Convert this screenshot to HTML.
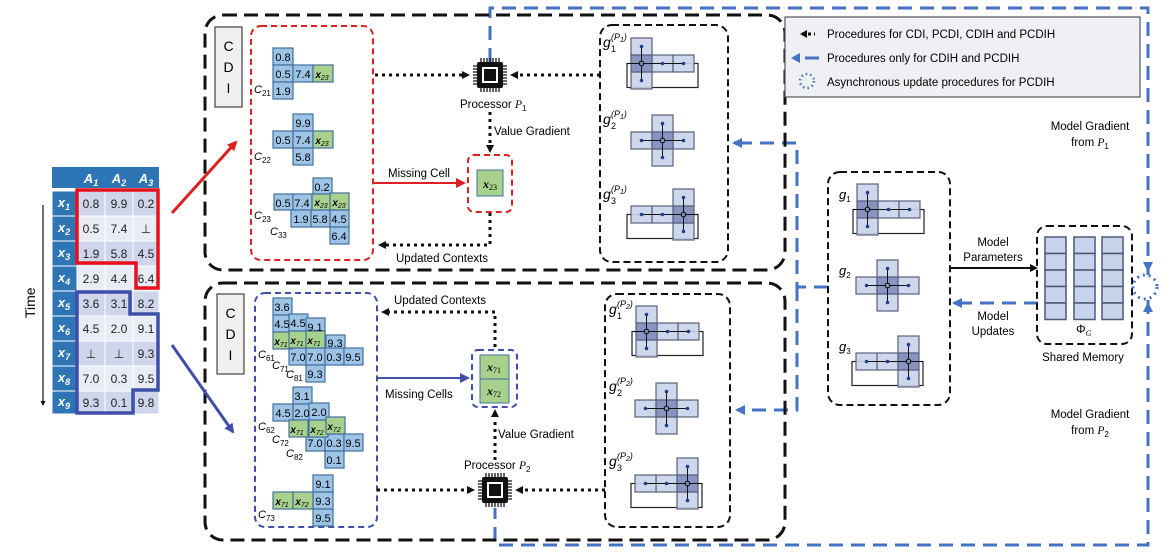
<!DOCTYPE html>
<html><head><meta charset="utf-8"><style>
html,body{margin:0;padding:0;background:#fff;}
svg{display:block;}
text{font-family:"Liberation Sans",sans-serif;}
.m{font-family:"Liberation Serif",serif;font-style:italic;}
</style></head><body>
<svg width="1170" height="556" viewBox="0 0 1170 556" xmlns="http://www.w3.org/2000/svg">
<defs>
<marker id="ak" markerWidth="8" markerHeight="8" refX="6" refY="4" orient="auto" markerUnits="userSpaceOnUse"><path d="M0,0 L8,4 L0,8 Z" fill="#111"/></marker>
<marker id="ab" markerWidth="10" markerHeight="10" refX="8" refY="5" orient="auto" markerUnits="userSpaceOnUse"><path d="M0,0 L10,5 L0,10 Z" fill="#4472c4"/></marker>
<marker id="ar" markerWidth="10" markerHeight="10" refX="8" refY="5" orient="auto" markerUnits="userSpaceOnUse"><path d="M0,0 L10,5 L0,10 Z" fill="#e02020"/></marker>
<marker id="an" markerWidth="10" markerHeight="10" refX="8" refY="5" orient="auto" markerUnits="userSpaceOnUse"><path d="M0,0 L10,5 L0,10 Z" fill="#3d4fa8"/></marker>
<marker id="as" markerWidth="5" markerHeight="5" refX="4" refY="2.5" orient="auto" markerUnits="userSpaceOnUse"><path d="M0,0 L5,2.5 L0,5 Z" fill="#111"/></marker>
<g id="gA">
<rect x="-4" y="8.5" width="71" height="24" fill="none" stroke="#222" stroke-width="1.2"/>
<g fill="#c9d3ea" fill-opacity="0.9" stroke="#58627a" stroke-width="1.2">
<rect x="0" y="-17" width="21" height="17"/><rect x="0" y="17" width="21" height="17"/><rect x="21" y="0" width="21" height="17"/><rect x="42" y="0" width="21" height="17"/>
<rect x="0" y="0" width="21" height="17" fill="#7d88bd"/></g>
<g stroke="#111" stroke-width="1"><line x1="10.5" y1="-8.5" x2="10.5" y2="6"/><line x1="10.5" y1="25.5" x2="10.5" y2="11"/><line x1="52.5" y1="8.5" x2="13" y2="8.5"/><line x1="-4" y1="8.5" x2="8" y2="8.5"/></g>
<g fill="#1f3f8f"><circle cx="10.5" cy="-8.5" r="1.8"/><circle cx="10.5" cy="25.5" r="1.8"/><circle cx="31.5" cy="8.5" r="1.8"/><circle cx="52.5" cy="8.5" r="1.8"/></g>
<circle cx="10.5" cy="8.5" r="2.3" fill="none" stroke="#111" stroke-width="1.2"/>
</g>
<g id="gB">
<g fill="#c9d3ea" fill-opacity="0.9" stroke="#58627a" stroke-width="1.2">
<rect x="0" y="-17" width="21" height="17"/><rect x="0" y="17" width="21" height="17"/><rect x="21" y="0" width="21" height="17"/><rect x="-21" y="0" width="21" height="17"/>
<rect x="0" y="0" width="21" height="17" fill="#7d88bd"/></g>
<g stroke="#111" stroke-width="1"><line x1="10.5" y1="-8.5" x2="10.5" y2="6"/><line x1="10.5" y1="25.5" x2="10.5" y2="11"/><line x1="31.5" y1="8.5" x2="13" y2="8.5"/><line x1="-10.5" y1="8.5" x2="8" y2="8.5"/></g>
<g fill="#1f3f8f"><circle cx="10.5" cy="-8.5" r="1.8"/><circle cx="10.5" cy="25.5" r="1.8"/><circle cx="31.5" cy="8.5" r="1.8"/><circle cx="-10.5" cy="8.5" r="1.8"/></g>
<circle cx="10.5" cy="8.5" r="2.3" fill="none" stroke="#111" stroke-width="1.2"/>
</g>
<g id="gC">
<rect x="-46" y="8.5" width="71" height="24" fill="none" stroke="#222" stroke-width="1.2"/>
<g fill="#c9d3ea" fill-opacity="0.9" stroke="#58627a" stroke-width="1.2">
<rect x="0" y="-17" width="21" height="17"/><rect x="0" y="17" width="21" height="17"/><rect x="-21" y="0" width="21" height="17"/><rect x="-42" y="0" width="21" height="17"/>
<rect x="0" y="0" width="21" height="17" fill="#7d88bd"/></g>
<g stroke="#111" stroke-width="1"><line x1="10.5" y1="-8.5" x2="10.5" y2="6"/><line x1="10.5" y1="25.5" x2="10.5" y2="11"/><line x1="-31.5" y1="8.5" x2="8" y2="8.5"/><line x1="25" y1="8.5" x2="13" y2="8.5"/></g>
<g fill="#1f3f8f"><circle cx="10.5" cy="-8.5" r="1.8"/><circle cx="10.5" cy="25.5" r="1.8"/><circle cx="-10.5" cy="8.5" r="1.8"/><circle cx="-31.5" cy="8.5" r="1.8"/></g>
<circle cx="10.5" cy="8.5" r="2.3" fill="none" stroke="#111" stroke-width="1.2"/>
</g>
<g id="chip">
<g stroke="#111" stroke-width="1.3">
<path d="M-9,-17v4M-6,-17v4M-3,-17v4M0,-17v4M3,-17v4M6,-17v4M9,-17v4"/>
<path d="M-9,13v4M-6,13v4M-3,13v4M0,13v4M3,13v4M6,13v4M9,13v4"/>
<path d="M-17,-9h4M-17,-6h4M-17,-3h4M-17,0h4M-17,3h4M-17,6h4M-17,9h4"/>
<path d="M13,-9h4M13,-6h4M13,-3h4M13,0h4M13,3h4M13,6h4M13,9h4"/>
</g>
<rect x="-13" y="-13" width="26" height="26" rx="2" fill="#111"/>
<rect x="-8" y="-8" width="16" height="16" fill="#fff"/>
<rect x="-6" y="-6" width="12" height="12" fill="#111"/>
</g>
</defs>

<g fill="none" stroke="#4472c4" stroke-width="3" stroke-dasharray="14,8">
<path d="M490,62 V8 H1148 V275"/>
<path d="M1148,300 V545 H495 V508"/>
<path d="M828,287 H797 V143 H742"/>
<path d="M797,287 V410 H745"/>
<path d="M1038,303 H962"/>
</g>
<path d="M742,143 h-8" stroke="#4472c4" stroke-width="3" marker-end="url(#ab)"/>
<path d="M745,410 h-8" stroke="#4472c4" stroke-width="3" marker-end="url(#ab)"/>
<path d="M962,303 h-8" stroke="#4472c4" stroke-width="3" marker-end="url(#ab)"/>
<path d="M1148,262 v8" stroke="#4472c4" stroke-width="3" marker-end="url(#ab)"/>
<path d="M1148,312 v-8" stroke="#4472c4" stroke-width="3" marker-end="url(#ab)"/>
<circle cx="1145" cy="287" r="12" fill="none" stroke="#4472c4" stroke-width="3" stroke-dasharray="2,4"/>

<rect x="205" y="15" width="580" height="255" rx="18" fill="none" stroke="#111" stroke-width="3" stroke-dasharray="14,7"/>
<rect x="205" y="283" width="580" height="257" rx="18" fill="none" stroke="#111" stroke-width="3" stroke-dasharray="14,7"/>

<rect x="215" y="27" width="27" height="80" fill="#f0f0f0" stroke="#444" stroke-width="1.2"/>
<text x="228.5" y="51" font-size="14" text-anchor="middle">C</text><text x="228.5" y="72" font-size="14" text-anchor="middle">D</text><text x="228.5" y="93" font-size="14" text-anchor="middle">I</text>
<rect x="217" y="294" width="27" height="80" fill="#f0f0f0" stroke="#444" stroke-width="1.2"/>
<text x="230.5" y="318" font-size="14" text-anchor="middle">C</text><text x="230.5" y="339" font-size="14" text-anchor="middle">D</text><text x="230.5" y="360" font-size="14" text-anchor="middle">I</text>

<rect x="251" y="26" width="122" height="234" rx="10" fill="none" stroke="#e02020" stroke-width="2" stroke-dasharray="6,4"/>
<rect x="468" y="155" width="44" height="57" rx="6" fill="none" stroke="#e02020" stroke-width="2" stroke-dasharray="6,4"/>
<rect x="477" y="170" width="26" height="26" fill="#a9d18e" stroke="#41719c"/>
<text x="490" y="188" class="m" font-size="12" font-weight="bold" text-anchor="middle">x<tspan font-size="8" dy="2" font-style="normal" font-weight="normal">23</tspan></text>

<rect x="255" y="293" width="122" height="234" rx="10" fill="none" stroke="#3d4fa8" stroke-width="2" stroke-dasharray="6,4"/>
<rect x="472" y="350" width="45" height="57" rx="6" fill="none" stroke="#3d4fa8" stroke-width="2" stroke-dasharray="6,4"/>
<rect x="480" y="355" width="29" height="24" fill="#a9d18e" stroke="#41719c"/>
<rect x="480" y="379" width="29" height="24" fill="#a9d18e" stroke="#41719c"/>
<text x="494" y="371" class="m" font-size="12" font-weight="bold" text-anchor="middle">x<tspan font-size="8" dy="2" font-style="normal" font-weight="normal">71</tspan></text>
<text x="494" y="395" class="m" font-size="12" font-weight="bold" text-anchor="middle">x<tspan font-size="8" dy="2" font-style="normal" font-weight="normal">72</tspan></text>

<rect x="600" y="25" width="128" height="237" rx="12" fill="none" stroke="#111" stroke-width="2" stroke-dasharray="7,4"/>
<rect x="605" y="294" width="125" height="233" rx="12" fill="none" stroke="#111" stroke-width="2" stroke-dasharray="7,4"/>
<rect x="828" y="172" width="122" height="233" rx="12" fill="none" stroke="#111" stroke-width="2" stroke-dasharray="7,4"/>
<rect x="1037" y="226" width="95" height="118" rx="10" fill="none" stroke="#111" stroke-width="2" stroke-dasharray="7,4"/>

<use href="#gA" x="631" y="55"/><use href="#gB" x="652" y="132"/><use href="#gC" x="673" y="206"/>
<use href="#gA" x="636" y="323"/><use href="#gB" x="656" y="400"/><use href="#gC" x="677" y="475"/>
<use href="#gA" x="857" y="201"/><use href="#gB" x="877" y="277"/><use href="#gC" x="898" y="353"/>

<g class="m">
<text x="603" y="47" font-size="14">g</text><text x="611" y="52" font-size="9" font-style="normal">1</text><text x="611" y="40" font-size="9">(P<tspan font-size="7" dy="2">1</tspan><tspan dy="-2">)</tspan></text>
<text x="603" y="124" font-size="14">g</text><text x="611" y="129" font-size="9" font-style="normal">2</text><text x="611" y="117" font-size="9">(P<tspan font-size="7" dy="2">1</tspan><tspan dy="-2">)</tspan></text>
<text x="603" y="199" font-size="14">g</text><text x="611" y="204" font-size="9" font-style="normal">3</text><text x="611" y="192" font-size="9">(P<tspan font-size="7" dy="2">1</tspan><tspan dy="-2">)</tspan></text>
<text x="609" y="314" font-size="14">g</text><text x="617" y="319" font-size="9" font-style="normal">1</text><text x="617" y="307" font-size="9">(P<tspan font-size="7" dy="2">2</tspan><tspan dy="-2">)</tspan></text>
<text x="609" y="391" font-size="14">g</text><text x="617" y="396" font-size="9" font-style="normal">2</text><text x="617" y="384" font-size="9">(P<tspan font-size="7" dy="2">2</tspan><tspan dy="-2">)</tspan></text>
<text x="609" y="466" font-size="14">g</text><text x="617" y="471" font-size="9" font-style="normal">3</text><text x="617" y="459" font-size="9">(P<tspan font-size="7" dy="2">2</tspan><tspan dy="-2">)</tspan></text>
<text x="839" y="199" font-size="13">g<tspan font-size="8" dy="3" font-style="normal">1</tspan></text>
<text x="839" y="275" font-size="13">g<tspan font-size="8" dy="3" font-style="normal">2</tspan></text>
<text x="839" y="351" font-size="13">g<tspan font-size="8" dy="3" font-style="normal">3</tspan></text>
</g>

<g fill="#c9d3ea" stroke="#4a5a7a" stroke-width="1.5">
<rect x="1045" y="237" width="21" height="16.5"/><rect x="1045" y="253.5" width="21" height="16.5"/><rect x="1045" y="270" width="21" height="16.5"/><rect x="1045" y="286.5" width="21" height="16.5"/><rect x="1045" y="303" width="21" height="16.5"/>
<rect x="1074" y="237" width="21" height="16.5"/><rect x="1074" y="253.5" width="21" height="16.5"/><rect x="1074" y="270" width="21" height="16.5"/><rect x="1074" y="286.5" width="21" height="16.5"/><rect x="1074" y="303" width="21" height="16.5"/>
<rect x="1102" y="237" width="21" height="16.5"/><rect x="1102" y="253.5" width="21" height="16.5"/><rect x="1102" y="270" width="21" height="16.5"/><rect x="1102" y="286.5" width="21" height="16.5"/><rect x="1102" y="303" width="21" height="16.5"/>
</g>
<text x="1076" y="333" font-size="12" font-family="Liberation Serif">Φ<tspan font-size="8" dy="3" class="m">G</tspan></text>
<text x="1083" y="361" font-size="11.5" text-anchor="middle">Shared Memory</text>
<path d="M950,268 H1036" stroke="#111" stroke-width="2" marker-end="url(#ak)"/>
<text x="993" y="246" font-size="11.5" text-anchor="middle">Model</text>
<text x="993" y="261" font-size="11.5" text-anchor="middle">Parameters</text>
<text x="993" y="320" font-size="11.5" text-anchor="middle">Model</text>
<text x="993" y="335" font-size="11.5" text-anchor="middle">Updates</text>
<text x="1090" y="130" font-size="11.5" text-anchor="middle">Model Gradient</text>
<text x="1090" y="146" font-size="11.5" text-anchor="middle">from <tspan class="m" font-family="Liberation Serif">P</tspan><tspan font-size="8" dy="3">1</tspan></text>
<text x="1090" y="418" font-size="11.5" text-anchor="middle">Model Gradient</text>
<text x="1090" y="434" font-size="11.5" text-anchor="middle">from <tspan class="m" font-family="Liberation Serif">P</tspan><tspan font-size="8" dy="3">2</tspan></text>

<rect x="785" y="17" width="355" height="80" fill="#eef0f3" stroke="#555" stroke-width="1.2"/>
<path d="M802,34 h13" stroke="#111" stroke-width="3" stroke-dasharray="3,3"/><path d="M800,34 l7,-4 v8z" fill="#111"/>
<text x="827" y="38" font-size="11.5">Procedures for CDI, PCDI, CDIH and PCDIH</text>
<path d="M805,58 h14" stroke="#4472c4" stroke-width="3"/><path d="M791,58 l9,-5 v10z" fill="#4472c4"/>
<text x="827" y="62" font-size="11.5">Procedures only for CDIH and PCDIH</text>
<circle cx="807" cy="81" r="7" fill="none" stroke="#4472c4" stroke-width="2.5" stroke-dasharray="1.5,3"/>
<text x="827" y="86" font-size="11.5">Asynchronous update procedures for PCDIH</text>

<use href="#chip" x="490" y="75"/>
<use href="#chip" x="495" y="490"/>
<g fill="none" stroke="#111" stroke-width="3" stroke-dasharray="3,4">
<path d="M375,75 H462"/><path d="M600,75 H518"/>
<path d="M490,112 V145"/>
<path d="M490,213 V245 H385"/>
<path d="M377,490 H467"/><path d="M605,490 H523"/>
<path d="M495,460 V418"/>
<path d="M495,347 V312 H388"/>
</g>
<path d="M464,75 h4" stroke="#111" stroke-width="2" marker-end="url(#ak)"/>
<path d="M516,75 h-4" stroke="#111" stroke-width="2" marker-end="url(#ak)"/>
<path d="M490,147 v4" stroke="#111" stroke-width="2" marker-end="url(#ak)"/>
<path d="M386,245 h-6" stroke="#111" stroke-width="2" marker-end="url(#ak)"/>
<path d="M469,490 h4" stroke="#111" stroke-width="2" marker-end="url(#ak)"/>
<path d="M521,490 h-4" stroke="#111" stroke-width="2" marker-end="url(#ak)"/>
<path d="M495,417 v-6" stroke="#111" stroke-width="2" marker-end="url(#ak)"/>
<path d="M389,312 h-6" stroke="#111" stroke-width="2" marker-end="url(#ak)"/>
<text x="460" y="108" font-size="11.5">Processor <tspan class="m" font-family="Liberation Serif">P</tspan><tspan font-size="8" dy="3">1</tspan></text>
<text x="494" y="135" font-size="11.5">Value Gradient</text>
<text x="396" y="262" font-size="11.5">Updated Contexts</text>
<text x="394" y="304" font-size="11.5">Updated Contexts</text>
<text x="498" y="438" font-size="11.5">Value Gradient</text>
<text x="464" y="469" font-size="11.5">Processor <tspan class="m" font-family="Liberation Serif">P</tspan><tspan font-size="8" dy="3">2</tspan></text>

<path d="M373,183 H464" stroke="#e02020" stroke-width="2" marker-end="url(#ar)"/>
<text x="388" y="177" font-size="11.5">Missing Cell</text>
<path d="M377,378 H468" stroke="#3d4fa8" stroke-width="2" marker-end="url(#an)"/>
<text x="385" y="398" font-size="11.5">Missing Cells</text>

<g font-size="11" text-anchor="middle">
<g fill="#9dc3e6" stroke="#41719c" stroke-width="1.2">
<rect x="273" y="48" width="20" height="17"/><rect x="273" y="65" width="20" height="17"/><rect x="293" y="65" width="20" height="17"/><rect x="273" y="82" width="20" height="17"/>
<rect x="293" y="114" width="20" height="17"/><rect x="273" y="131" width="20" height="17"/><rect x="293" y="131" width="20" height="17"/><rect x="293" y="148" width="20" height="17"/>
<rect x="313" y="178" width="19" height="16"/><rect x="274" y="194" width="19" height="16"/><rect x="293" y="194" width="19" height="16"/>
<rect x="291" y="210" width="20" height="17"/><rect x="311" y="210" width="19" height="17"/><rect x="330" y="210" width="19" height="17"/><rect x="330" y="227" width="19" height="17"/>
</g>
<g fill="#a9d18e" stroke="#41719c" stroke-width="1.2">
<rect x="313" y="65" width="20" height="17"/><rect x="313" y="131" width="20" height="17"/><rect x="312" y="194" width="19" height="16"/><rect x="330" y="193" width="19" height="17"/>
</g>
<text x="283" y="61">0.8</text><text x="283" y="78">0.5</text><text x="303" y="78">7.4</text><text x="283" y="95">1.9</text>
<text x="303" y="127">9.9</text><text x="283" y="144">0.5</text><text x="303" y="144">7.4</text><text x="303" y="161">5.8</text>
<text x="322" y="191">0.2</text><text x="283" y="207">0.5</text><text x="302" y="207">7.4</text>
<text x="301" y="223">1.9</text><text x="320" y="223">5.8</text><text x="339" y="223">4.5</text><text x="339" y="240">6.4</text>
<g class="m" font-family="Liberation Serif" font-weight="bold" font-size="10">
<text x="322" y="78">x<tspan font-size="7" dy="2" font-weight="normal">23</tspan></text>
<text x="322" y="144">x<tspan font-size="7" dy="2" font-weight="normal">23</tspan></text>
<text x="321" y="206">x<tspan font-size="7" dy="2" font-weight="normal">23</tspan></text>
<text x="339" y="206">x<tspan font-size="7" dy="2" font-weight="normal">23</tspan></text>
</g>
</g>
<g class="m" font-family="Liberation Serif" font-size="11">
<text x="254" y="93">C<tspan font-size="8" dy="3" font-style="normal">21</tspan></text>
<text x="254" y="160">C<tspan font-size="8" dy="3" font-style="normal">22</tspan></text>
<text x="254" y="219">C<tspan font-size="8" dy="3" font-style="normal">23</tspan></text>
<text x="270" y="235">C<tspan font-size="8" dy="3" font-style="normal">33</tspan></text>
<text x="258" y="358">C<tspan font-size="8" dy="3" font-style="normal">61</tspan></text>
<text x="272" y="369">C<tspan font-size="8" dy="3" font-style="normal">71</tspan></text>
<text x="286" y="378">C<tspan font-size="8" dy="3" font-style="normal">81</tspan></text>
<text x="258" y="430">C<tspan font-size="8" dy="3" font-style="normal">62</tspan></text>
<text x="272" y="443">C<tspan font-size="8" dy="3" font-style="normal">72</tspan></text>
<text x="286" y="457">C<tspan font-size="8" dy="3" font-style="normal">82</tspan></text>
<text x="258" y="518">C<tspan font-size="8" dy="3" font-style="normal">73</tspan></text>
</g>

<g font-size="11" text-anchor="middle">
<g fill="#9dc3e6" stroke="#41719c" stroke-width="1.2">
<rect x="273" y="298" width="19" height="17"/><rect x="273" y="315" width="19" height="17"/>
<rect x="289" y="314" width="19" height="17"/><rect x="289" y="348" width="19" height="17"/>
<rect x="306" y="318" width="19" height="16"/><rect x="326" y="335" width="19" height="16"/>
<rect x="306" y="348" width="19" height="17"/><rect x="325" y="348" width="19" height="17"/><rect x="344" y="348" width="19" height="17"/><rect x="306" y="365" width="19" height="17"/>
<rect x="293" y="387" width="19" height="17"/><rect x="273" y="404" width="20" height="17"/><rect x="293" y="404" width="19" height="17"/><rect x="309" y="403" width="20" height="17"/>
<rect x="306" y="434" width="19" height="17"/><rect x="325" y="434" width="19" height="17"/><rect x="344" y="434" width="19" height="17"/><rect x="325" y="451" width="19" height="17"/>
<rect x="313" y="475" width="20" height="17"/><rect x="313" y="492" width="20" height="17"/><rect x="313" y="509" width="20" height="17"/>
</g>
<g fill="#a9d18e" stroke="#41719c" stroke-width="1.2">
<rect x="273" y="332" width="19" height="17"/><rect x="289" y="331" width="19" height="17"/><rect x="306" y="331" width="19" height="17"/>
<rect x="289" y="420" width="19" height="17"/><rect x="309" y="420" width="19" height="17"/><rect x="326" y="417" width="19" height="17"/>
<rect x="273" y="492" width="20" height="17"/><rect x="293" y="492" width="20" height="17"/>
</g>
<text x="282" y="311">3.6</text><text x="282" y="328">4.5</text><text x="298" y="327">4.5</text><text x="298" y="361">7.0</text>
<text x="315" y="331">9.1</text><text x="335" y="347">9.3</text>
<text x="315" y="361">7.0</text><text x="334" y="361">0.3</text><text x="353" y="361">9.5</text><text x="315" y="378">9.3</text>
<text x="302" y="400">3.1</text><text x="283" y="417">4.5</text><text x="302" y="417">2.0</text><text x="319" y="416">2.0</text>
<text x="315" y="447">7.0</text><text x="334" y="447">0.3</text><text x="353" y="447">9.5</text><text x="334" y="464">0.1</text>
<text x="323" y="488">9.1</text><text x="323" y="505">9.3</text><text x="323" y="522">9.5</text>
<g class="m" font-family="Liberation Serif" font-weight="bold" font-size="10">
<text x="281" y="345">x<tspan font-size="7" dy="2" font-weight="normal">71</tspan></text>
<text x="297" y="344">x<tspan font-size="7" dy="2" font-weight="normal">71</tspan></text>
<text x="314" y="344">x<tspan font-size="7" dy="2" font-weight="normal">71</tspan></text>
<text x="297" y="433">x<tspan font-size="7" dy="2" font-weight="normal">71</tspan></text>
<text x="317" y="433">x<tspan font-size="7" dy="2" font-weight="normal">72</tspan></text>
<text x="334" y="430">x<tspan font-size="7" dy="2" font-weight="normal">72</tspan></text>
<text x="282" y="505">x<tspan font-size="7" dy="2" font-weight="normal">71</tspan></text>
<text x="302" y="505">x<tspan font-size="7" dy="2" font-weight="normal">72</tspan></text>
</g>
</g>

<g>
<rect x="52" y="167" width="25" height="21" fill="#2e75b6"/>
<rect x="77" y="167" width="28" height="21" fill="#2e75b6"/><rect x="105" y="167" width="28" height="21" fill="#2e75b6"/><rect x="133" y="167" width="26" height="21" fill="#2e75b6"/>
<g fill="#2e75b6" stroke="#fff" stroke-width="1">
<rect x="52" y="191" width="25" height="25"/><rect x="52" y="216" width="25" height="25"/><rect x="52" y="241" width="25" height="25"/><rect x="52" y="266" width="25" height="25"/><rect x="52" y="291" width="25" height="25"/><rect x="52" y="316" width="25" height="25"/><rect x="52" y="341" width="25" height="25"/><rect x="52" y="366" width="25" height="25"/><rect x="52" y="391" width="25" height="23"/>
</g>
<g stroke="#fff" stroke-width="1">
<rect x="77" y="191" width="82" height="25" fill="#cfd5ea"/><rect x="77" y="216" width="82" height="25" fill="#e9ebf5"/><rect x="77" y="241" width="82" height="25" fill="#cfd5ea"/><rect x="77" y="266" width="82" height="25" fill="#e9ebf5"/><rect x="77" y="291" width="82" height="25" fill="#cfd5ea"/><rect x="77" y="316" width="82" height="25" fill="#e9ebf5"/><rect x="77" y="341" width="82" height="25" fill="#cfd5ea"/><rect x="77" y="366" width="82" height="25" fill="#e9ebf5"/><rect x="77" y="391" width="82" height="23" fill="#cfd5ea"/>
<path d="M105,191V414M133,191V414"/>
</g>
<g class="m" font-family="Liberation Serif" font-weight="bold" fill="#fff" font-size="13" text-anchor="middle">
<text x="91" y="183">A<tspan font-size="9" dy="3">1</tspan></text><text x="119" y="183">A<tspan font-size="9" dy="3">2</tspan></text><text x="146" y="183">A<tspan font-size="9" dy="3">3</tspan></text>
<text x="64" y="207">x<tspan font-size="9" dy="3">1</tspan></text><text x="64" y="232">x<tspan font-size="9" dy="3">2</tspan></text><text x="64" y="257">x<tspan font-size="9" dy="3">3</tspan></text><text x="64" y="282">x<tspan font-size="9" dy="3">4</tspan></text><text x="64" y="307">x<tspan font-size="9" dy="3">5</tspan></text><text x="64" y="332">x<tspan font-size="9" dy="3">6</tspan></text><text x="64" y="357">x<tspan font-size="9" dy="3">7</tspan></text><text x="64" y="382">x<tspan font-size="9" dy="3">8</tspan></text><text x="64" y="406">x<tspan font-size="9" dy="3">9</tspan></text>
</g>
<g font-size="12" text-anchor="middle" fill="#222">
<text x="91" y="208">0.8</text><text x="119" y="208">9.9</text><text x="146" y="208">0.2</text>
<text x="91" y="233">0.5</text><text x="119" y="233">7.4</text><text x="146" y="233">⊥</text>
<text x="91" y="258">1.9</text><text x="119" y="258">5.8</text><text x="146" y="258">4.5</text>
<text x="91" y="283">2.9</text><text x="119" y="283">4.4</text><text x="146" y="283">6.4</text>
<text x="91" y="308">3.6</text><text x="119" y="308">3.1</text><text x="146" y="308">8.2</text>
<text x="91" y="333">4.5</text><text x="119" y="333">2.0</text><text x="146" y="333">9.1</text>
<text x="91" y="358">⊥</text><text x="119" y="358">⊥</text><text x="146" y="358">9.3</text>
<text x="91" y="383">7.0</text><text x="119" y="383">0.3</text><text x="146" y="383">9.5</text>
<text x="91" y="407">9.3</text><text x="119" y="407">0.1</text><text x="146" y="407">9.8</text>
</g>
<path d="M77,190 H158 V288 H136 V263 H77 Z" fill="none" stroke="#e8101a" stroke-width="3.5"/>
<path d="M77,292 H130 V314 H158 V390 H133 V413 H77 Z" fill="none" stroke="#3d4fa8" stroke-width="3.5"/>
<path d="M43,205 V405" stroke="#111" stroke-width="1.2" marker-end="url(#as)"/>
<text x="0" y="0" font-size="14" transform="translate(35,318) rotate(-90)">Time</text>
</g>
<path d="M172,213 L236,142" stroke="#e02020" stroke-width="3" marker-end="url(#ar)"/>
<path d="M172,345 L233,432" stroke="#3d4fa8" stroke-width="3" marker-end="url(#an)"/>
</svg>
</body></html>
